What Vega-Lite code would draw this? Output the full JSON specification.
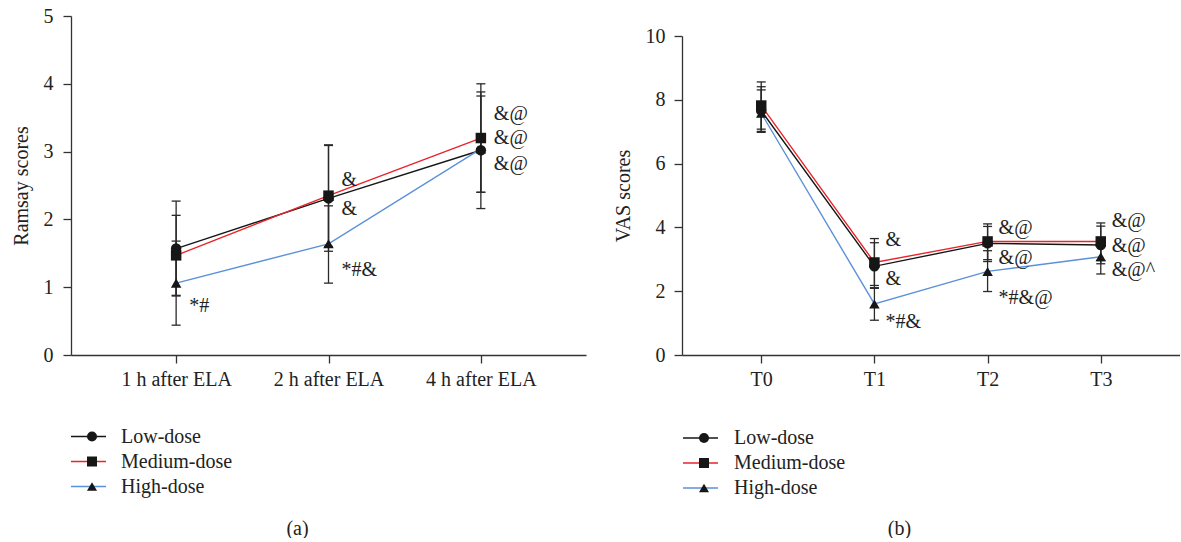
{
  "$schema": "https://vega.github.io/schema/vega-lite/v6.json",
  "padding": {"left": 11, "top": 6, "right": 0, "bottom": 0},
  "background": "white",
  "config": {
    "font": "Liberation Serif",
    "view": {"stroke": null},
    "axis": {
      "labelFont": "Liberation Serif", "labelFontSize": 20, "labelColor": "#222",
      "titleFont": "Liberation Serif", "titleFontSize": 20, "titleFontWeight": "normal", "titleColor": "#222",
      "domainColor": "#333", "tickColor": "#333", "domainWidth": 1.3, "tickWidth": 1.3,
      "grid": false, "tickSize": 8
    },
    "legend": {"labelFont": "Liberation Serif", "labelFontSize": 20, "labelColor": "#222", "padding": 0}
  },
  "datasets": {
    "ramsay": [
      {"time": "1 h after ELA", "group": "Low-dose", "mean": 1.57, "lo": 0.87, "hi": 2.27},
      {"time": "1 h after ELA", "group": "Medium-dose", "mean": 1.47, "lo": 0.88, "hi": 2.06},
      {"time": "1 h after ELA", "group": "High-dose", "mean": 1.06, "lo": 0.44, "hi": 1.68},
      {"time": "2 h after ELA", "group": "Low-dose", "mean": 2.31, "lo": 1.53, "hi": 3.09},
      {"time": "2 h after ELA", "group": "Medium-dose", "mean": 2.35, "lo": 1.60, "hi": 3.10},
      {"time": "2 h after ELA", "group": "High-dose", "mean": 1.64, "lo": 1.06, "hi": 2.20},
      {"time": "4 h after ELA", "group": "Low-dose", "mean": 3.02, "lo": 2.16, "hi": 3.88},
      {"time": "4 h after ELA", "group": "Medium-dose", "mean": 3.20, "lo": 2.40, "hi": 4.00},
      {"time": "4 h after ELA", "group": "High-dose", "mean": 3.04, "lo": 2.40, "hi": 3.82}
    ],
    "ramsayLabels": [
      {"time": "1 h after ELA", "label": "*#", "pos": 0.73},
      {"time": "2 h after ELA", "label": "&", "pos": 2.58},
      {"time": "2 h after ELA", "label": "&", "pos": 2.15},
      {"time": "2 h after ELA", "label": "*#&", "pos": 1.25},
      {"time": "4 h after ELA", "label": "&@", "pos": 3.56},
      {"time": "4 h after ELA", "label": "&@", "pos": 3.2},
      {"time": "4 h after ELA", "label": "&@", "pos": 2.81}
    ],
    "vas": [
      {"time": "T0", "group": "Low-dose", "mean": 7.66, "lo": 7.01, "hi": 8.31},
      {"time": "T0", "group": "Medium-dose", "mean": 7.82, "lo": 7.08, "hi": 8.56},
      {"time": "T0", "group": "High-dose", "mean": 7.58, "lo": 6.98, "hi": 8.41},
      {"time": "T1", "group": "Low-dose", "mean": 2.78, "lo": 2.09, "hi": 3.52},
      {"time": "T1", "group": "Medium-dose", "mean": 2.90, "lo": 2.18, "hi": 3.65},
      {"time": "T1", "group": "High-dose", "mean": 1.60, "lo": 1.09, "hi": 2.11},
      {"time": "T2", "group": "Low-dose", "mean": 3.50, "lo": 2.93, "hi": 4.03},
      {"time": "T2", "group": "Medium-dose", "mean": 3.56, "lo": 2.99, "hi": 4.11},
      {"time": "T2", "group": "High-dose", "mean": 2.62, "lo": 1.99, "hi": 3.27},
      {"time": "T3", "group": "Low-dose", "mean": 3.45, "lo": 2.86, "hi": 4.04},
      {"time": "T3", "group": "Medium-dose", "mean": 3.56, "lo": 2.96, "hi": 4.14},
      {"time": "T3", "group": "High-dose", "mean": 3.08, "lo": 2.54, "hi": 3.62}
    ],
    "vasLabels": [
      {"time": "T1", "label": "&", "pos": 3.6},
      {"time": "T1", "label": "&", "pos": 2.37},
      {"time": "T1", "label": "*#&", "pos": 1.03},
      {"time": "T2", "label": "&@", "pos": 3.99},
      {"time": "T2", "label": "&@", "pos": 3.05},
      {"time": "T2", "label": "*#&@", "pos": 1.8},
      {"time": "T3", "label": "&@", "pos": 4.21},
      {"time": "T3", "label": "&@", "pos": 3.42},
      {"time": "T3", "label": "&@^", "pos": 2.67}
    ],
    "none": []
  },
  "hconcat": [
    {
      "width": 515,
      "height": 339,
      "layer": [
        {
          "data": {"name": "ramsay"},
          "mark": {"type": "line", "strokeWidth": 1.4},
          "encoding": {
            "x": {"field": "time", "type": "ordinal", "sort": null,
              "scale": {"type": "point", "padding": 0.69},
              "axis": {"title": "(a)", "titleX": 226, "titleY": 173, "titleBaseline": "middle", "labelAngle": 0, "labelPadding": 6}},
            "y": {"field": "mean", "type": "quantitative", "scale": {"domain": [0, 5], "nice": false},
              "axis": {"title": "Ramsay scores", "values": [0, 1, 2, 3, 4, 5], "format": "d", "labelPadding": 10, "titlePadding": 12}},
            "color": {"field": "group", "type": "nominal",
              "scale": {"domain": ["Low-dose", "Medium-dose", "High-dose"], "range": ["#161616", "#e8242a", "#5b91d8"]},
              "legend": {"orient": "none", "legendX": -1, "legendY": 408, "title": null, "symbolType": "stroke", "symbolSize": 1225, "symbolStrokeWidth": 1.5, "labelOffset": 14, "rowPadding": 0, "clipHeight": 25}}
          }
        },
        {
          "data": {"name": "ramsay"},
          "mark": {"type": "rule", "color": "#2a2a2a", "strokeWidth": 1.3},
          "encoding": {
            "x": {"field": "time", "type": "ordinal", "sort": null},
            "y": {"field": "lo", "type": "quantitative"},
            "y2": {"field": "hi"}
          }
        },
        {
          "data": {"name": "ramsay"},
          "mark": {"type": "tick", "color": "#2a2a2a", "size": 9, "thickness": 1.3, "opacity": 1},
          "encoding": {
            "x": {"field": "time", "type": "ordinal", "sort": null},
            "y": {"field": "lo", "type": "quantitative"}
          }
        },
        {
          "data": {"name": "ramsay"},
          "mark": {"type": "tick", "color": "#2a2a2a", "size": 9, "thickness": 1.3, "opacity": 1},
          "encoding": {
            "x": {"field": "time", "type": "ordinal", "sort": null},
            "y": {"field": "hi", "type": "quantitative"}
          }
        },
        {
          "data": {"name": "ramsay"},
          "mark": {"type": "point", "filled": true, "color": "#161616", "opacity": 1, "size": 110},
          "encoding": {
            "x": {"field": "time", "type": "ordinal", "sort": null},
            "y": {"field": "mean", "type": "quantitative"},
            "shape": {"field": "group", "type": "nominal", "sort": ["Low-dose", "Medium-dose", "High-dose"],
              "scale": {"range": ["circle", "square", "triangle-up"]},
              "legend": {"orient": "none", "legendX": -1, "legendY": 408, "title": null, "symbolSize": 100, "symbolOffset": 12, "symbolFillColor": "#161616", "symbolStrokeWidth": 0, "labelOpacity": 0, "rowPadding": 0, "clipHeight": 25}}
          }
        },
        {
          "data": {"name": "ramsayLabels"},
          "mark": {"type": "text", "align": "left", "baseline": "middle", "dx": 13, "fontSize": 20, "font": "Liberation Serif", "color": "#222"},
          "encoding": {
            "x": {"field": "time", "type": "ordinal", "sort": null},
            "y": {"field": "pos", "type": "quantitative"},
            "text": {"field": "label"}
          }
        }
      ]
    },
    {
      "spacing": -21,
      "vconcat": [
        {
          "width": 498,
          "height": 0,
          "data": {"name": "none"},
          "mark": "point"
        },
        {
          "width": 498,
          "height": 319,
          "layer": [
            {
              "data": {"name": "vas"},
              "mark": {"type": "line", "strokeWidth": 1.4},
              "encoding": {
                "x": {"field": "time", "type": "ordinal", "sort": null,
                  "scale": {"type": "point", "padding": 0.7},
                  "axis": {"title": "(b)", "titleX": 217, "titleY": 173, "titleBaseline": "middle", "labelAngle": 0, "labelPadding": 6}},
                "y": {"field": "mean", "type": "quantitative", "scale": {"domain": [0, 10], "nice": false},
                  "axis": {"title": "VAS scores", "values": [0, 2, 4, 6, 8, 10], "format": "d", "labelPadding": 9, "titlePadding": 12}},
                "color": {"field": "group", "type": "nominal",
                  "scale": {"domain": ["Low-dose", "Medium-dose", "High-dose"], "range": ["#161616", "#e8242a", "#5b91d8"]},
                  "legend": {"orient": "none", "legendX": 0, "legendY": 409.5, "title": null, "symbolType": "stroke", "symbolSize": 1225, "symbolStrokeWidth": 1.5, "labelOffset": 15, "rowPadding": 0, "clipHeight": 25}}
              }
            },
            {
              "data": {"name": "vas"},
              "mark": {"type": "rule", "color": "#2a2a2a", "strokeWidth": 1.3},
              "encoding": {
                "x": {"field": "time", "type": "ordinal", "sort": null},
                "y": {"field": "lo", "type": "quantitative"},
                "y2": {"field": "hi"}
              }
            },
            {
              "data": {"name": "vas"},
              "mark": {"type": "tick", "color": "#2a2a2a", "size": 9, "thickness": 1.3, "opacity": 1},
              "encoding": {
                "x": {"field": "time", "type": "ordinal", "sort": null},
                "y": {"field": "lo", "type": "quantitative"}
              }
            },
            {
              "data": {"name": "vas"},
              "mark": {"type": "tick", "color": "#2a2a2a", "size": 9, "thickness": 1.3, "opacity": 1},
              "encoding": {
                "x": {"field": "time", "type": "ordinal", "sort": null},
                "y": {"field": "hi", "type": "quantitative"}
              }
            },
            {
              "data": {"name": "vas"},
              "mark": {"type": "point", "filled": true, "color": "#161616", "opacity": 1, "size": 110},
              "encoding": {
                "x": {"field": "time", "type": "ordinal", "sort": null},
                "y": {"field": "mean", "type": "quantitative"},
                "shape": {"field": "group", "type": "nominal", "sort": ["Low-dose", "Medium-dose", "High-dose"],
                  "scale": {"range": ["circle", "square", "triangle-up"]},
                  "legend": {"orient": "none", "legendX": 0, "legendY": 409.5, "title": null, "symbolSize": 100, "symbolOffset": 12, "symbolFillColor": "#161616", "symbolStrokeWidth": 0, "labelOpacity": 0, "rowPadding": 0, "clipHeight": 25}}
              }
            },
            {
              "data": {"name": "vasLabels"},
              "mark": {"type": "text", "align": "left", "baseline": "middle", "dx": 11, "fontSize": 20, "font": "Liberation Serif", "color": "#222"},
              "encoding": {
                "x": {"field": "time", "type": "ordinal", "sort": null},
                "y": {"field": "pos", "type": "quantitative"},
                "text": {"field": "label"}
              }
            }
          ]
        }
      ]
    }
  ],
  "spacing": 27,
  "resolve": {
    "scale": {"color": "independent", "shape": "independent", "x": "independent", "y": "independent"},
    "legend": {"color": "independent", "shape": "independent"}
  }
}
